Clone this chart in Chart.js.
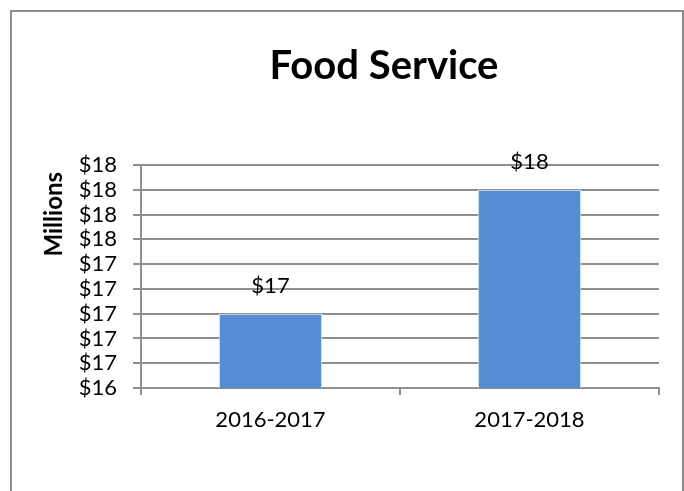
<!DOCTYPE html>
<html>
<head>
<meta charset="utf-8">
<script src="https://cdn.jsdelivr.net/npm/chart.js@4.4.1/dist/chart.umd.min.js"></script>
<style>
  body { margin: 0; background: #ffffff; }
  #frame {
    position: absolute; left: 10px; top: 10px;
    width: 670px; height: 520px;
    border: 2px solid #8c8c8c; border-bottom: none;
  }
  #chartcontainer { position: absolute; left: 0; top: 0; }
</style>
</head>
<body>
<div id="frame"></div>
<canvas id="chartcontainer" width="684" height="491"></canvas>
<script>
var chartTitle = "Food Service";
var axisTitle = "Millions";
var categories = ["2016-2017", "2017-2018"];
var spending = [17.0, 18.0]; // millions of dollars
var yMin = 16.4, yMax = 18.2, yStep = 0.2;

var gridGrey = "#8f8f8f";

function dollars(v) {
    return "$" + Math.round(v);
}

// title, axis title and value labels drawn on top of the chart
var textPlugin = {
    id: "textPlugin",
    afterDraw: function(chart) {
        var ctx = chart.ctx;
        var area = chart.chartArea;
        ctx.save();
        ctx.fillStyle = "#000";
        ctx.textAlign = "center";
        ctx.textBaseline = "middle";
        ctx.font = "bold 40px Lato";
        ctx.fillText(chartTitle, 384, 66);

        // value labels above each bar
        ctx.font = "22px Lato";
        var meta = chart.getDatasetMeta(0);
        meta.data.forEach(function(bar, i) {
            ctx.fillText(dollars(spending[i]), bar.x, bar.y - 28);
        });

        // rotated axis title, anchored near the top of the axis
        ctx.translate(54, area.top + 7);
        ctx.rotate(-Math.PI / 2);
        ctx.textAlign = "right";
        ctx.font = "bold 24px Lato";
        ctx.fillText(axisTitle, 0, 0);
        ctx.restore();
    }
};

function drawChart() {
    var ctx = document.getElementById("chartcontainer").getContext("2d");
    var chart = new Chart(ctx, {
        type: "bar",
        data: {
            labels: categories,
            datasets: [{
                data: spending,
                backgroundColor: "#558ed5",
                borderColor: "#ffffff",
                borderWidth: 1,
                categoryPercentage: 1.0,
                barPercentage: 0.4
            }]
        },
        options: {
            responsive: false,
            animation: false,
            devicePixelRatio: 1,
            layout: { padding: { top: 165, right: 25, left: 0, bottom: 0 } },
            plugins: {
                legend: { display: false },
                title: { display: false },
                tooltip: { enabled: false }
            },
            scales: {
                x: {
                    grid: {
                        display: true,
                        drawOnChartArea: false,
                        offset: true,
                        tickLength: 7,
                        color: gridGrey,
                        lineWidth: 2
                    },
                    border: { color: gridGrey, width: 2 },
                    ticks: {
                        color: "#000",
                        padding: 12,
                        font: { family: "Lato", size: 22 }
                    },
                    afterFit: function(scale) { scale.height = 103; }
                },
                y: {
                    min: yMin,
                    max: yMax,
                    grid: {
                        color: gridGrey,
                        lineWidth: 2,
                        tickLength: 8
                    },
                    border: { color: gridGrey, width: 2 },
                    ticks: {
                        stepSize: yStep,
                        autoSkip: false,
                        color: "#000",
                        padding: 16,
                        font: { family: "Lato", size: 22 },
                        callback: function(value) { return dollars(value); }
                    },
                    afterFit: function(scale) { scale.width = 141; }
                }
            }
        },
        plugins: [textPlugin]
    });
}

document.fonts.load("bold 40px Lato").then(function() {
    return document.fonts.load("22px Lato");
}).then(drawChart, drawChart);
</script>
</body>
</html>
